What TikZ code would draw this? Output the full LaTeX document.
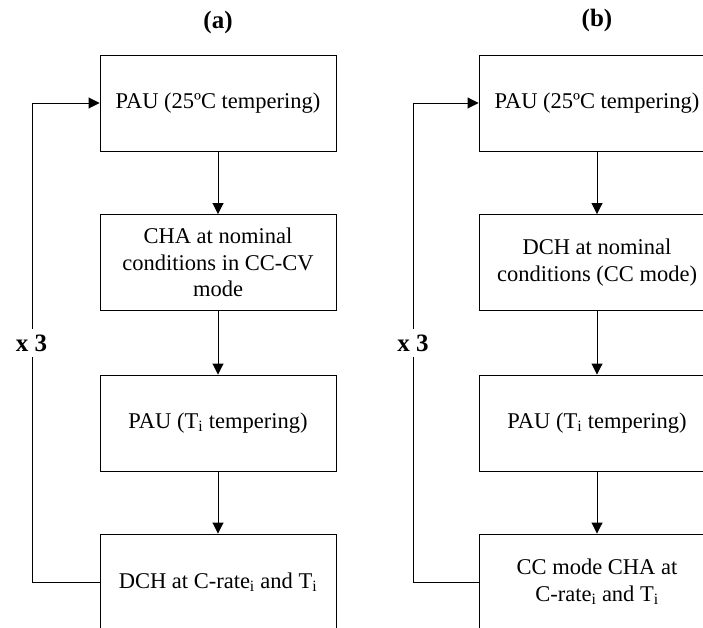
\documentclass[tikz,border=0pt]{standalone}
\usepackage{fontspec}
\setmainfont{Liberation Serif}
\usetikzlibrary{arrows.meta}

\tikzset{
  stepbox/.style={draw, line width=0.9pt, rectangle, minimum width=236pt, minimum height=96pt,
    inner sep=0pt, align=center, font=\fontsize{22.5}{26.7}\selectfont},
  flow/.style={line width=0.9pt, -{Triangle[length=11pt,width=11pt]}},
  loopline/.style={line width=0.9pt},
  panel/.style={font=\fontsize{25}{30}\selectfont\bfseries},
  rep/.style={font=\fontsize{25}{30}\selectfont\bfseries, fill=white, inner xsep=1pt, inner ysep=6pt}
}

\begin{document}
\begin{tikzpicture}[x=1pt,y=-1pt]
  \useasboundingbox (0,0) rectangle (703,628);
  \clip (0,0) rectangle (703,628);

  % ---- panel (a) ----
  \node[panel] (ta) at (218,22) {(a)};
  \node[stepbox] (a1) at (218,103) {PAU (25ºC tempering)};
  \node[stepbox] (a2) at (218,262.5) {CHA at nominal\\conditions in CC-CV\\mode};
  \node[stepbox] (a3) at (218,423) {PAU (T\textsubscript{i} tempering)};
  \node[stepbox] (a4) at (218,582) {DCH at C-rate\textsubscript{i} and T\textsubscript{i}};
  \coordinate (la) at (32,0);
  \draw[flow] (a1) -- (a2);
  \draw[flow] (a2) -- (a3);
  \draw[flow] (a3) -- (a4);
  \draw[loopline, -{Triangle[length=11pt,width=11pt]}]
    (a4.west) -- (a4.west -| la) -- (a1.west -| la) -- (a1.west);
  \node[rep] (xa) at (31.5,343) {x 3};

  % ---- panel (b) ----
  \node[panel] (tb) at (597,20) {(b)};
  \node[stepbox] (b1) at (597,103) {PAU (25ºC tempering)};
  \node[stepbox] (b2) at (597,262.5) {DCH at nominal\\conditions (CC mode)};
  \node[stepbox] (b3) at (597,423) {PAU (T\textsubscript{i} tempering)};
  \node[stepbox] (b4) at (597,582) {CC mode CHA at\\C-rate\textsubscript{i} and T\textsubscript{i}};
  \coordinate (lb) at (413,0);
  \draw[flow] (b1) -- (b2);
  \draw[flow] (b2) -- (b3);
  \draw[flow] (b3) -- (b4);
  \draw[loopline, -{Triangle[length=11pt,width=11pt]}]
    (b4.west) -- (b4.west -| lb) -- (b1.west -| lb) -- (b1.west);
  \node[rep] (xb) at (413,343) {x 3};
\end{tikzpicture}
\end{document}
